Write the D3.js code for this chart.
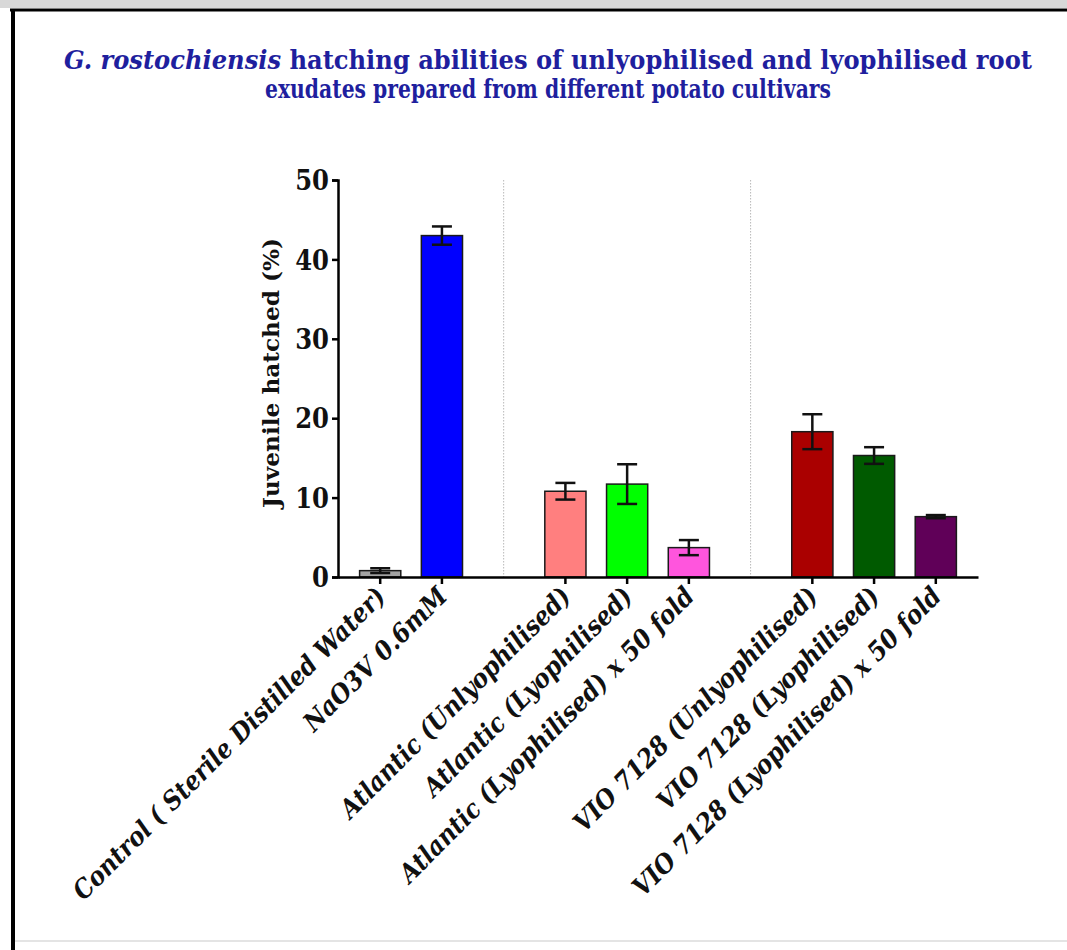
<!DOCTYPE html>
<html>
<head>
<meta charset="utf-8">
<script src="https://cdn.jsdelivr.net/npm/d3@7"></script>
<style>
  html, body { margin: 0; padding: 0; background: #fff; }
  svg { display: block; }
  .serif { font-family: "DejaVu Serif Condensed", "DejaVu Serif", serif; font-weight: bold; }
</style>
</head>
<body>
<svg id="chart" width="1067" height="950"></svg>
<script>
// Hatching data: mean juvenile hatch (%) with error (SD) per treatment
const categories = [
  "Control ( Sterile Distilled Water)",
  "NaO3V 0.6mM",
  "",
  "Atlantic (Unlyophilised)",
  "Atlantic (Lyophilised)",
  "Atlantic (Lyophilised) x 50 fold",
  " ",
  "VIO 7128 (Unlyophilised)",
  "VIO 7128 (Lyophilised)",
  "VIO 7128 (Lyophilised) x 50 fold"
];
const means = [0.8, 43.0, null, 10.8, 11.7, 3.7, null, 18.3, 15.3, 7.6];
const errors = [0.3, 1.15, null, 1.05, 2.5, 0.95, null, 2.2, 1.05, 0.2];
const colors = ["#a3a3a3", "#0000ff", null, "#ff7f7f", "#00ff00", "#ff55dd", null, "#aa0000", "#005a00", "#600058"];
const yTicks = [0, 10, 20, 30, 40, 50];
const separators = ["", " "];

const svg = d3.select("#chart");
const W = 1067, H = 950;

// Frame around the figure
svg.append("rect").attr("x", 0).attr("y", 0).attr("width", W).attr("height", 8).attr("fill", "#d8d8d8");
svg.append("line").attr("x1", 10).attr("x2", W).attr("y1", 10).attr("y2", 10)
  .attr("stroke", "#000").attr("stroke-width", 3);
svg.append("line").attr("x1", 13).attr("x2", 13).attr("y1", 9).attr("y2", H)
  .attr("stroke", "#000").attr("stroke-width", 4);
svg.append("line").attr("x1", 15).attr("x2", W).attr("y1", 941).attr("y2", 941)
  .attr("stroke", "#e4e4e4").attr("stroke-width", 2);

// Title
const title = svg.append("g").attr("class", "serif").attr("fill", "#1f1f9e").attr("font-size", 26);
const t1 = title.append("text").attr("x", 548).attr("y", 69).attr("text-anchor", "middle")
  .attr("textLength", 968).attr("lengthAdjust", "spacingAndGlyphs");
t1.append("tspan").attr("font-style", "italic").text("G. rostochiensis");
t1.append("tspan").text(" hatching abilities of unlyophilised and lyophilised root");
title.append("text").attr("x", 548).attr("y", 98).attr("text-anchor", "middle")
  .attr("textLength", 566).attr("lengthAdjust", "spacingAndGlyphs")
  .text("exudates prepared from different potato cultivars");

// Scales
const x = d3.scaleBand().domain(categories).range([338, 978]).paddingInner(0.333).paddingOuter(0.35);
const y = d3.scaleLinear().domain([0, 50]).range([577, 180]);

// Dotted separators between groups
svg.append("g").selectAll("line").data(separators).join("line")
  .attr("x1", d => x(d) + x.bandwidth() / 2).attr("x2", d => x(d) + x.bandwidth() / 2)
  .attr("y1", y(50)).attr("y2", y(0))
  .attr("stroke", "#b8b8b8").attr("stroke-width", 1).attr("stroke-dasharray", "1.5,1.5");

// Bars
const rows = categories.map((c, i) => ({ c, m: means[i], e: errors[i], col: colors[i] })).filter(d => d.m !== null);
svg.append("g").selectAll("rect").data(rows).join("rect")
  .attr("x", d => x(d.c)).attr("width", x.bandwidth())
  .attr("y", d => y(d.m)).attr("height", d => y(0) - y(d.m))
  .attr("fill", d => d.col).attr("stroke", "#1a1a1a").attr("stroke-width", 1.5);

// Error bars
const eb = svg.append("g").attr("stroke", "#111").attr("stroke-width", 2.5);
rows.forEach(d => {
  const cx = x(d.c) + x.bandwidth() / 2;
  eb.append("line").attr("x1", cx).attr("x2", cx).attr("y1", y(d.m + d.e)).attr("y2", y(d.m - d.e));
  [d.m + d.e, d.m - d.e].forEach(v => {
    eb.append("line").attr("x1", cx - 10).attr("x2", cx + 10).attr("y1", y(v)).attr("y2", y(v));
  });
});

// Y axis
const yAxis = svg.append("g").attr("transform", "translate(338,0)")
  .call(d3.axisLeft(y).tickValues(yTicks).tickSize(6).tickPadding(3).tickFormat(d3.format("d")));
yAxis.select(".domain").attr("stroke", "#000").attr("stroke-width", 2.5);
yAxis.selectAll(".tick line").attr("stroke", "#000").attr("stroke-width", 2.5);
yAxis.selectAll(".tick text").attr("class", "serif").attr("font-size", 27).attr("fill", "#111").attr("dy", "0.36em");

// Y axis title
svg.append("text").attr("class", "serif").attr("font-size", 22).attr("fill", "#111")
  .attr("transform", "translate(279,373) rotate(-90)").attr("text-anchor", "middle")
  .attr("textLength", 270).attr("lengthAdjust", "spacingAndGlyphs")
  .text("Juvenile hatched (%)");

// X axis
const xAxis = svg.append("g").attr("transform", "translate(0,577)")
  .call(d3.axisBottom(x).tickSize(7).tickSizeOuter(0).tickFormat(""));
xAxis.select(".domain").attr("stroke", "#000").attr("stroke-width", 2.5);
xAxis.selectAll(".tick").filter(d => d.trim() === "").remove();
xAxis.selectAll(".tick line").attr("stroke", "#000").attr("stroke-width", 2.5);

// Rotated category labels
svg.append("g").selectAll("text").data(rows).join("text")
  .attr("class", "serif").attr("font-style", "italic").attr("font-size", 26).attr("fill", "#111")
  .attr("text-anchor", "end")
  .attr("transform", d => `translate(${x(d.c) + x.bandwidth() / 2 + 7},${598}) rotate(-45)`)
  .text(d => d.c);
</script>
</body>
</html>
